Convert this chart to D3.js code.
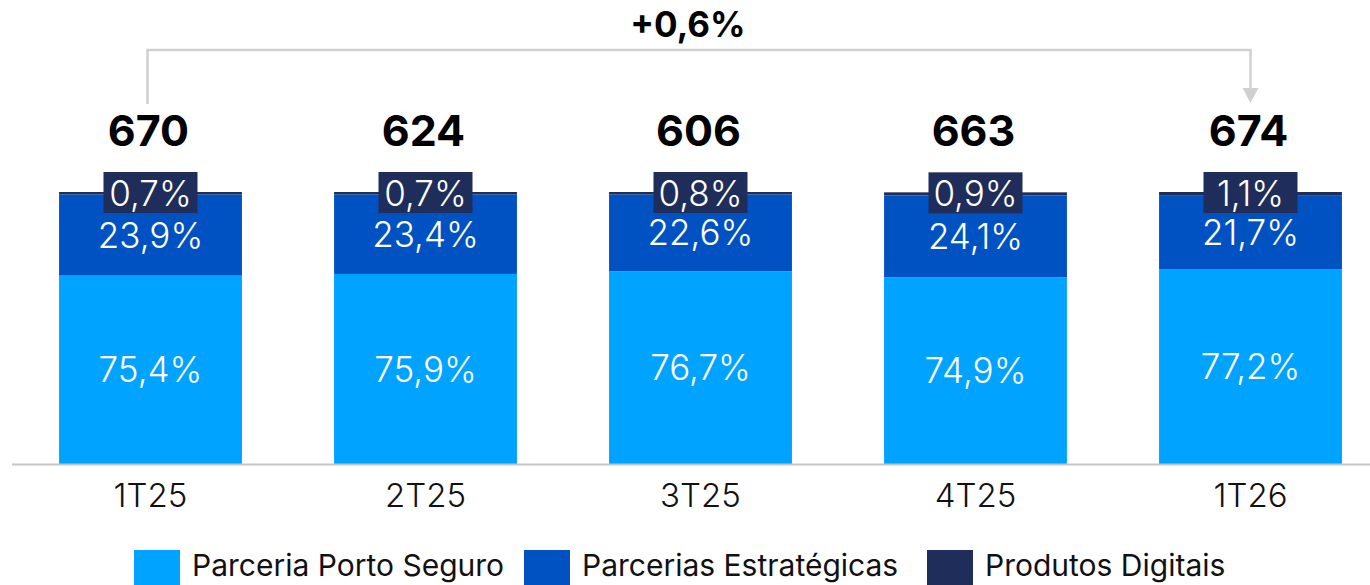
<!DOCTYPE html>
<html>
<head>
<meta charset="utf-8">
<script src="https://cdn.jsdelivr.net/npm/d3@7"></script>
<style>
	body { margin: 0; background: #fff; }
	svg { display: block; font-family: Inter, "Noto Sans", sans-serif; }
</style>
</head>
<body>
<div id="chart"></div>
<script>
const W = 1370, H = 585;

const categories = ["1T25", "2T25", "3T25", "4T25", "1T26"];
const totals = [670, 624, 606, 663, 674];
const porto = [75.4, 75.9, 76.7, 74.9, 77.2];
const estrategicas = [23.9, 23.4, 22.6, 24.1, 21.7];
const digitais = [0.7, 0.7, 0.8, 0.9, 1.1];
const seriesNames = ["Parceria Porto Seguro", "Parcerias Estratégicas", "Produtos Digitais"];
const colors = ["#00a3ff", "#0052c2", "#1f2d5a"];
const growth = "+0,6%";

const fmt = v => v.toFixed(1).replace(".", ",") + "%";

let rows = categories.map((c, i) => ({
	cat: c, total: totals[i], s0: porto[i], s1: estrategicas[i], s2: digitais[i]
}));

let stack = d3.stack().keys(["s0", "s1", "s2"])(rows);

let x = d3.scaleBand()
	.domain(categories)
	.range([13, 1388])
	.paddingInner(0.335)
	.paddingOuter(0.1675);

// the original axis starts at 20%, bars are cut at the baseline
let y = d3.scaleLinear()
	.domain([20, 100])
	.range([464, 192])
	.clamp(true);

let svg = d3.select("#chart").append("svg")
	.attr("width", W)
	.attr("height", H);

let layers = svg.selectAll("g.layer")
	.data(stack)
	.enter().append("g")
	.attr("class", "layer")
	.attr("fill", (d, i) => colors[i]);

layers.selectAll("rect")
	.data(d => d)
	.enter().append("rect")
	.attr("x", d => x(d.data.cat))
	.attr("width", x.bandwidth())
	.attr("y", d => y(d[1]))
	.attr("height", d => y(d[0]) - y(d[1]));

// axis line
svg.append("line")
	.attr("x1", 12).attr("x2", W)
	.attr("y1", 464.5).attr("y2", 464.5)
	.attr("stroke", "#c6c6c6")
	.attr("stroke-width", 2);

// labels of the two big segments
[0, 1].forEach(k => {
	svg.append("g").selectAll("text")
		.data(stack[k])
		.enter().append("text")
		.attr("x", d => x(d.data.cat) + x.bandwidth() / 2)
		.attr("y", d => (y(d[0]) + y(d[1])) / 2)
		.attr("dy", "0.36em")
		.attr("text-anchor", "middle")
		.attr("fill", "#fff")
		.attr("font-size", 35)
		.attr("font-weight", 300)
		.text(d => fmt(d[1] - d[0]));
});

// small segment labels in navy boxes
let tags = svg.append("g").selectAll("g")
	.data(stack[2])
	.enter().append("g")
	.attr("transform", d => "translate(" + (x(d.data.cat) + x.bandwidth() / 2) + "," + y(d[1]) + ")");

tags.append("rect")
	.attr("x", -47).attr("y", -20)
	.attr("width", 94).attr("height", 41)
	.attr("fill", colors[2]);

tags.append("text")
	.attr("y", 1)
	.attr("dy", "0.36em")
	.attr("text-anchor", "middle")
	.attr("fill", "#fff")
	.attr("font-size", 35)
	.attr("font-weight", 300)
	.text(d => fmt(d[1] - d[0]));

// totals
svg.append("g").selectAll("text")
	.data(rows)
	.enter().append("text")
	.attr("x", d => x(d.cat) + x.bandwidth() / 2 - 2)
	.attr("y", 146)
	.attr("text-anchor", "middle")
	.attr("font-size", 43)
	.attr("font-weight", 700)
	.attr("fill", "#000")
	.text(d => d.total);

// category labels
svg.append("g").selectAll("text")
	.data(categories)
	.enter().append("text")
	.attr("x", d => x(d) + x.bandwidth() / 2)
	.attr("y", 507)
	.attr("text-anchor", "middle")
	.attr("font-size", 33)
	.attr("font-weight", 350)
	.attr("fill", "#111")
	.text(d => d);

// growth bracket
let xa = x(categories[0]) + x.bandwidth() / 2 - 3;
let xb = x(categories[categories.length - 1]) + x.bandwidth() / 2;
svg.append("path")
	.attr("d", "M" + xa + ",104V50H" + xb + "V90")
	.attr("fill", "none")
	.attr("stroke", "#d0d0d0")
	.attr("stroke-width", 2.5);
svg.append("path")
	.attr("d", "M" + (xb - 8) + ",88L" + (xb + 8) + ",88L" + xb + ",103Z")
	.attr("fill", "#d0d0d0");
svg.append("text")
	.attr("x", (xa + xb) / 2 - 11)
	.attr("y", 37)
	.attr("text-anchor", "middle")
	.attr("font-size", 35)
	.attr("font-weight", 700)
	.text(growth);

// legend
let legendX = [134, 524, 927];
let lg = svg.append("g").selectAll("g")
	.data(seriesNames)
	.enter().append("g")
	.attr("transform", (d, i) => "translate(" + legendX[i] + ",550)");
lg.append("rect")
	.attr("width", 46).attr("height", 35)
	.attr("fill", (d, i) => colors[i]);
lg.append("text")
	.attr("x", 58)
	.attr("y", 26)
	.attr("font-size", 30)
	.attr("fill", "#111")
	.text(d => d);
</script>
</body>
</html>
